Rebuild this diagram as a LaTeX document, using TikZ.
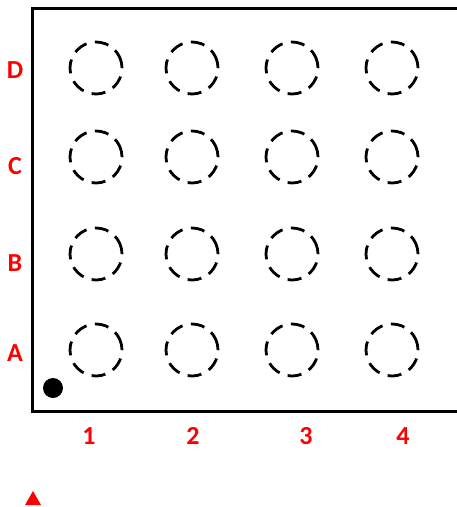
\documentclass[tikz,border=0pt]{standalone}
\usepackage{fontspec}
\setmainfont{Carlito}
\begin{document}
\begin{tikzpicture}[x=1pt,y=-1pt,
  ball/.style={circle,draw=black,line width=2.8pt,dash pattern=on 14pt off 8.5pt,minimum size=52pt,inner sep=0pt},
  lbl/.style={text=red,font=\bfseries\fontsize{26}{26}\selectfont,inner sep=0pt}]
\useasboundingbox (0,0) rectangle (457,507);
\coordinate (tr) at (457,8);
\coordinate (tl) at (32,8);
\coordinate (bl) at (32,411);
\coordinate (br) at (457,411);
\draw[line width=3pt] (tr) -- (tl) -- (bl) -- (br);
\foreach \r/\y/\yl in {D/68/70,C/157/166,B/254/263,A/350/353}{
  \node[lbl] (row\r) at (15,\yl) {\r};
  \foreach \c/\x in {1/96,2/192,3/292,4/392}{
    \node[ball,rotate=12] (b\r\c) at (\x,\y) {};
  }
}
\foreach \c/\x in {1/89,2/193,3/306,4/403}{
  \node[lbl] (col\c) at (\x,436) {\c};
}
\fill[black] (53,388) circle (10pt) coordinate (pin1);
\fill[red] (25,505) -- (41,505) -- (33,491) -- cycle;
\end{tikzpicture}
\end{document}
